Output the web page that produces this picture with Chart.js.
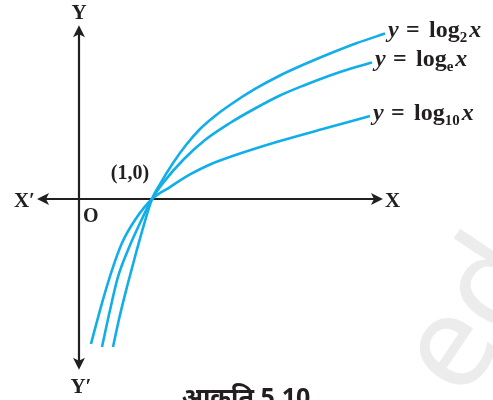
<!DOCTYPE html>
<html>
	<head>
		<meta charset="utf-8">
		<style type="text/css">
			html, body {
				margin: 0;
				padding: 0;
				background: #ffffff;
			}
		</style>
	</head>
	<body>
		<canvas id="myChart" width="493" height="400"></canvas>
		<script src="https://cdn.jsdelivr.net/npm/chart.js@4.4.1/dist/chart.umd.min.js"></script>
		<script>
			// curve points (x, y in axis units, (1,0) is the crossing)
			var log2X = [0.466, 0.555, 0.664, 0.781, 0.884, 1.000, 1.110, 1.288, 1.466, 1.658, 1.863, 2.068, 2.411, 2.753, 3.096, 3.438, 3.808, 4.192];
			var log2Y = [-2.027, -1.616, -1.178, -0.740, -0.370, 0, 0.205, 0.493, 0.740, 0.959, 1.137, 1.288, 1.507, 1.692, 1.849, 1.993, 2.137, 2.267];
			var lnX = [0.315, 0.425, 0.534, 0.671, 0.836, 1.000, 1.151, 1.425, 1.726, 2.068, 2.411, 2.753, 3.096, 3.438, 3.726, 4.014];
			var lnY = [-2.027, -1.521, -1.068, -0.699, -0.329, 0, 0.219, 0.534, 0.808, 1.041, 1.240, 1.418, 1.562, 1.692, 1.788, 1.870];
			var log10X = [0.164, 0.315, 0.452, 0.589, 0.767, 1.000, 1.247, 1.521, 1.795, 2.205, 2.753, 3.438, 3.986];
			var log10Y = [-1.986, -1.425, -0.973, -0.603, -0.288, 0, 0.164, 0.336, 0.473, 0.623, 0.795, 0.986, 1.137];
			var curveBases = ["2", "e", "10"];
			// visible window and the drawn axes
			var xRange = [-1.082, 5.671];
			var yRange = [-2.753, 2.726];
			var xAxisEnds = [-0.575, 4.164];
			var yAxisEnds = [-2.34, 2.38];
			var pointLabel = "(1,0)";
			var caption = "आकृति 5.10";

			var blue = "#12aee9";
			var ink = "#231f20";
			var serif = "'Liberation Serif', 'Times New Roman', serif";

			function pts(xs, ys) {
				var out = [];
				for (var i = 0; i < xs.length; i++) {
					out.push({x: xs[i], y: ys[i]});
				}
				return out;
			}

			function arrowHead(ctx, x, y, angle) {
				ctx.save();
				ctx.translate(x, y);
				ctx.rotate(angle);
				ctx.beginPath();
				ctx.moveTo(0, 0);
				ctx.lineTo(-12, -6);
				ctx.lineTo(-9, 0);
				ctx.lineTo(-12, 6);
				ctx.closePath();
				ctx.fill();
				ctx.restore();
			}

			function curveLabel(ctx, x0, y0, base) {
				var big = "bold 24px " + serif;
				var bigIt = "italic bold 24px " + serif;
				var small = "bold 15px " + serif;
				ctx.textAlign = "left";
				ctx.textBaseline = "alphabetic";
				ctx.font = bigIt;
				ctx.fillText("y", x0, y0);
				ctx.font = big;
				ctx.fillText("=", x0 + 18, y0);
				ctx.fillText("log", x0 + 41, y0);
				var lx = x0 + 41 + ctx.measureText("log").width;
				ctx.font = small;
				ctx.fillText(base, lx, y0 + 5);
				var sx = lx + ctx.measureText(base).width + 2;
				ctx.font = bigIt;
				ctx.fillText("x", sx, y0);
			}

			var figurePlugin = {
				id: "figure",
				beforeDatasetsDraw: function(chart) {
					var ctx = chart.ctx;
					var sx = chart.scales.x;
					var sy = chart.scales.y;
					var ox = sx.getPixelForValue(0);
					var oy = sy.getPixelForValue(0);
					var xl = sx.getPixelForValue(xAxisEnds[0]);
					var xr = sx.getPixelForValue(xAxisEnds[1]);
					var yb = sy.getPixelForValue(yAxisEnds[0]);
					var yt = sy.getPixelForValue(yAxisEnds[1]);
					ctx.save();
					// watermark sits under everything
					ctx.save();
					ctx.fillStyle = "#ececec";
					ctx.font = "130px 'Noto Sans', sans-serif";
					ctx.translate(463, 402);
					ctx.rotate(-0.98);
					ctx.textAlign = "left";
					ctx.fillText("ed", 0, 0);
					ctx.restore();

					ctx.strokeStyle = ink;
					ctx.fillStyle = ink;
					ctx.lineWidth = 2.2;
					ctx.beginPath();
					ctx.moveTo(xl + 8, oy);
					ctx.lineTo(xr - 8, oy);
					ctx.moveTo(ox, yb - 8);
					ctx.lineTo(ox, yt + 8);
					ctx.stroke();
					arrowHead(ctx, xr, oy, 0);
					arrowHead(ctx, xl, oy, Math.PI);
					arrowHead(ctx, ox, yt, -Math.PI / 2);
					arrowHead(ctx, ox, yb, Math.PI / 2);

					ctx.font = "bold 21px " + serif;
					ctx.textBaseline = "alphabetic";
					ctx.textAlign = "center";
					ctx.fillText("Y", ox, yt - 6);
					ctx.fillText("Y\u2032", ox + 2, yb + 23);
					ctx.textAlign = "right";
					ctx.fillText("X\u2032", xl - 2, oy + 8);
					ctx.textAlign = "left";
					ctx.fillText("X", xr + 2, oy + 8);
					ctx.font = "bold 20px " + serif;
					ctx.fillText("O", ox + 4, oy + 23);
					ctx.textAlign = "center";
					ctx.fillText(pointLabel, sx.getPixelForValue(1) - 22, oy - 20);
					ctx.restore();
				},
				afterDatasetsDraw: function(chart) {
					var ctx = chart.ctx;
					ctx.save();
					ctx.fillStyle = ink;
					chart.data.datasets.forEach(function(ds, i) {
						var last = chart.getDatasetMeta(i).data[ds.data.length - 1];
						curveLabel(ctx, last.x + 3, last.y + 3.5, curveBases[i]);
					});

					ctx.font = "bold 25px 'Noto Sans', 'DejaVu Sans', sans-serif";
					ctx.textAlign = "center";
					ctx.fillText(caption, 246, 406);
					ctx.restore();
				}
			};

			var ctx = document.getElementById("myChart").getContext('2d');
			var datasets = [
				{"label": "log2", "data": pts(log2X, log2Y)},
				{"label": "loge", "data": pts(lnX, lnY)},
				{"label": "log10", "data": pts(log10X, log10Y)}
			];
			datasets.forEach(function(ds) {
				ds.showLine = true;
				ds.fill = false;
				ds.borderColor = blue;
				ds.borderWidth = 2.6;
				ds.pointRadius = 0;
				ds.cubicInterpolationMode = "monotone";
			});
			var myChart = new Chart(ctx, {
				type: 'scatter',
				data: {datasets: datasets},
				plugins: [figurePlugin],
				options: {
					responsive: false,
					animation: false,
					layout: {padding: 0},
					plugins: {
						legend: {display: false},
						tooltip: {enabled: false}
					},
					scales: {
						x: {type: 'linear', min: xRange[0], max: xRange[1], display: false},
						y: {type: 'linear', min: yRange[0], max: yRange[1], display: false}
					}
				}
			});
		</script>
	</body>
</html>
